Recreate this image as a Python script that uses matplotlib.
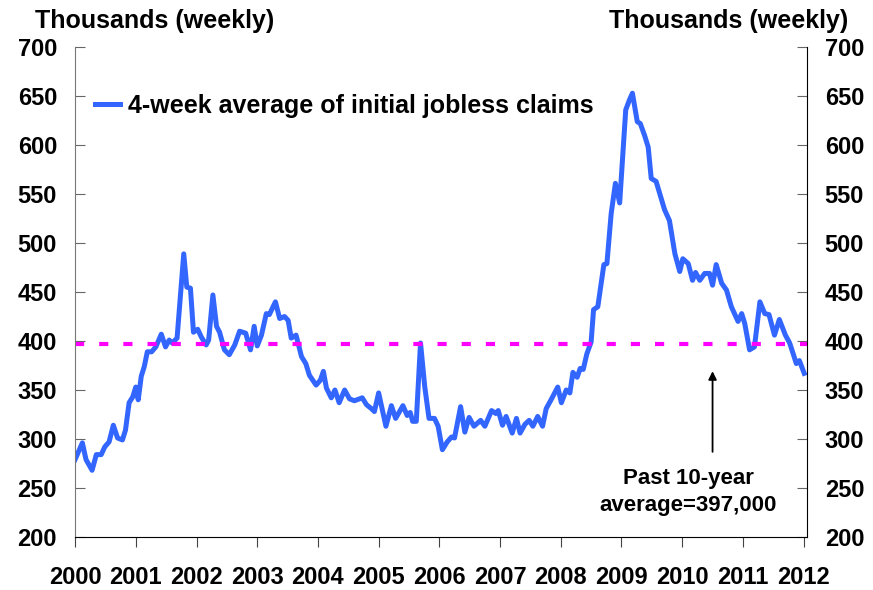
import matplotlib.pyplot as plt

# 4-week average of initial jobless claims (thousands)
years = [2000.00, 2000.12, 2000.18, 2000.28, 2000.35, 2000.43, 2000.49, 2000.56, 2000.63, 2000.70,
         2000.78, 2000.83, 2000.89, 2000.95, 2001.00, 2001.04, 2001.09, 2001.14, 2001.19, 2001.26,
         2001.33, 2001.42, 2001.49, 2001.55, 2001.60, 2001.68, 2001.79, 2001.84, 2001.90, 2001.95,
         2002.02, 2002.08, 2002.16, 2002.20, 2002.27, 2002.33, 2002.38, 2002.46, 2002.54, 2002.63,
         2002.71, 2002.81, 2002.89, 2002.95, 2003.00, 2003.07, 2003.15, 2003.20, 2003.30, 2003.37,
         2003.45, 2003.51, 2003.56, 2003.64, 2003.73, 2003.80, 2003.86, 2003.97, 2004.04, 2004.09,
         2004.14, 2004.22, 2004.28, 2004.35, 2004.44, 2004.52, 2004.60, 2004.73, 2004.80, 2004.88,
         2004.93, 2005.00, 2005.12, 2005.21, 2005.28, 2005.40, 2005.47, 2005.52, 2005.56, 2005.62,
         2005.69, 2005.76, 2005.83, 2005.92, 2005.98, 2006.05, 2006.13, 2006.20, 2006.25, 2006.35,
         2006.42, 2006.49, 2006.57, 2006.68, 2006.75, 2006.86, 2006.93, 2006.97, 2007.04, 2007.10,
         2007.20, 2007.27, 2007.33, 2007.41, 2007.48, 2007.54, 2007.62, 2007.70, 2007.76, 2007.84,
         2007.95, 2008.01, 2008.09, 2008.15, 2008.20, 2008.27, 2008.32, 2008.37, 2008.43, 2008.50,
         2008.54, 2008.61, 2008.71, 2008.76, 2008.83, 2008.90, 2008.97, 2009.07, 2009.13, 2009.18,
         2009.26, 2009.31, 2009.38, 2009.44, 2009.49, 2009.57, 2009.71, 2009.79, 2009.88, 2009.96,
         2010.01, 2010.10, 2010.17, 2010.22, 2010.29, 2010.37, 2010.45, 2010.50, 2010.56, 2010.65,
         2010.73, 2010.81, 2010.92, 2010.98, 2011.03, 2011.11, 2011.19, 2011.28, 2011.36, 2011.43,
         2011.52, 2011.60, 2011.70, 2011.77, 2011.88, 2011.93, 2012.01]
claims = [279, 296, 279, 268, 284, 284, 292, 297, 314, 301,
          299, 309, 337, 343, 353, 340, 364, 374, 389, 389,
          394, 407, 394, 401, 398, 403, 489, 455, 454, 409,
          412, 404, 396, 401, 447, 415, 409, 391, 386, 396,
          410, 408, 391, 415, 395, 406, 428, 427, 440, 423,
          425, 421, 403, 406, 384, 377, 365, 355, 360, 369,
          352, 342, 350, 337, 350, 341, 339, 342, 335, 331,
          328, 347, 313, 334, 321, 334, 324, 327, 318, 318,
          398, 353, 321, 321, 313, 289, 297, 302, 301, 333,
          307, 322, 313, 319, 313, 329, 326, 329, 314, 323,
          306, 321, 306, 315, 319, 313, 323, 313, 331, 340,
          353, 337, 350, 347, 368, 363, 372, 371, 387, 399,
          432, 435, 478, 479, 530, 561, 541, 636, 646, 653,
          624, 622, 610, 598, 566, 563, 534, 523, 489, 471,
          484, 479, 462, 470, 462, 469, 469, 457, 478, 459,
          452, 435, 420, 428, 418, 391, 394, 440, 428, 427,
          406, 422, 406, 398, 377, 380, 367]

ten_year_avg = 397
year_labels = [str(y) for y in range(2000, 2013)]
y_ticks = list(range(200, 701, 50))

plt.rcParams['font.family'] = ['Liberation Sans', 'DejaVu Sans']
plt.rcParams['font.weight'] = 'bold'

fig = plt.figure(figsize=(8.73, 5.9), dpi=100)
ax = fig.add_axes([0.086, 0.090, 0.838, 0.830])

ax.plot(years, claims, color='#3366FF', lw=3.6, solid_joinstyle='round',
        label='4-week average of initial jobless claims')
ax.axhline(ten_year_avg, color='#FF00FF', lw=3, dashes=(2.2, 3.6))

ax.set_xlim(2000, 2012.05)
ax.set_ylim(200, 700)
ax.set_xticks(range(2000, 2013))
ax.set_xticklabels(year_labels, fontsize=17, fontweight='bold')
ax.set_yticks(y_ticks)
ax.set_yticklabels([str(v) for v in y_ticks], fontsize=17, fontweight='bold')
ax.tick_params(axis='x', direction='out', length=7, pad=14, color='#444444')
ax.tick_params(axis='y', direction='in', length=7, pad=13, color='#666666',
               left=True, right=True, labelleft=True, labelright=True)
ax.spines['top'].set_visible(False)
ax.spines['left'].set_color('#777777')

fig.text(0.04, 0.965, 'Thousands (weekly)', fontsize=18, fontweight='bold', va='center')
fig.text(0.972, 0.965, 'Thousands (weekly)', fontsize=18, fontweight='bold', va='center', ha='right')

ax.legend(loc='upper left', bbox_to_anchor=(0.0, 0.945), frameon=False, fontsize=18,
          handlelength=1.0, handletextpad=0.3, borderaxespad=0.4)

ax.annotate('', xy=(2010.50, 372), xytext=(2010.50, 284),
            arrowprops=dict(arrowstyle='-|>', color='black', lw=1.3, mutation_scale=12))
ax.text(2010.10, 246, 'Past 10-year\naverage=397,000', ha='center', va='center',
        fontsize=16, fontweight='bold', linespacing=1.35)

fig.savefig('out.png', dpi=100)
